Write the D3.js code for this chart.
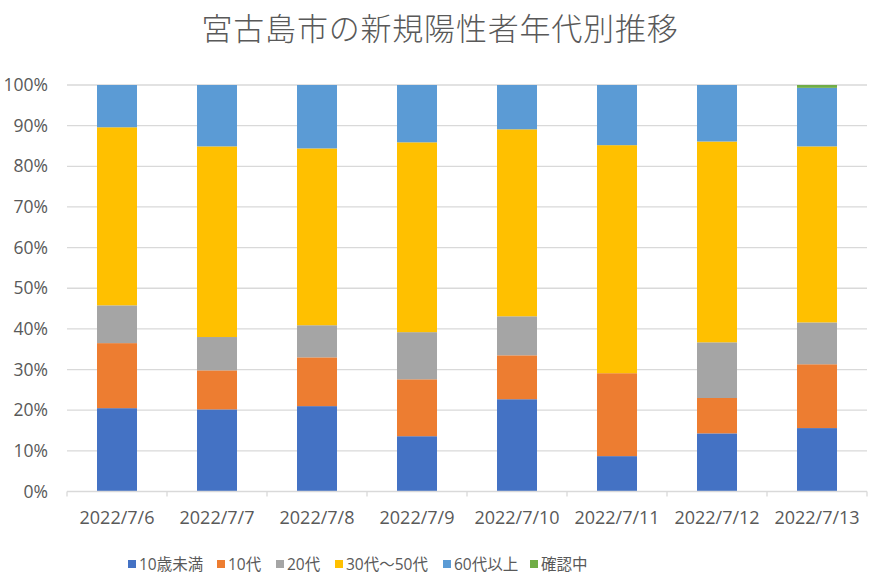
<!DOCTYPE html>
<html lang="ja">
<head>
    <meta charset="UTF-8">
    <title>宮古島市の新規陽性者年代別推移</title>
    <script src="https://d3js.org/d3.v7.min.js"></script>
    <style>
        body {background:#fff; margin:0}
        svg text {font-family:"Open Sans", "Noto Sans CJK JP", sans-serif; fill:#595959}
    </style>
</head>
<body>
<svg id="chart" width="875" height="583"></svg>
<script>
// dates on the x axis
var dates = ["2022/7/6", "2022/7/7", "2022/7/8", "2022/7/9", "2022/7/10", "2022/7/11", "2022/7/12", "2022/7/13"];
// age groups (stack order, bottom to top)
var groups = ["10歳未満", "10代", "20代", "30代～50代", "60代以上", "確認中"];
// share of each group per day, in %
var under10   = [20.5, 20.2, 21.0, 13.6, 22.7,  8.7, 14.3, 15.6];
var teens     = [16.0,  9.6, 12.0, 14.0, 10.8, 20.4,  8.7, 15.7];
var twenties  = [ 9.3,  8.2,  7.9, 11.6,  9.6,  0.0, 13.7, 10.3];
var age30to50 = [43.8, 46.9, 43.5, 46.7, 46.0, 56.1, 49.4, 43.3];
var over60    = [10.4, 15.1, 15.6, 14.1, 10.9, 14.8, 13.9, 14.4];
var unknown   = [ 0.0,  0.0,  0.0,  0.0,  0.0,  0.0,  0.0,  0.7];
var yTicks = [0, 0.1, 0.2, 0.3, 0.4, 0.5, 0.6, 0.7, 0.8, 0.9, 1];

var colors = ["#4472C4", "#ED7D31", "#A5A5A5", "#FFC000", "#5B9BD5", "#70AD47"];
var series = [under10, teens, twenties, age30to50, over60, unknown];

// build rows for d3.stack, normalised to 100%
var rows = dates.map(function(d, i){
    var row = {date: d}, total = 0;
    series.forEach(function(s){ total += s[i]; });
    groups.forEach(function(g, k){ row[g] = series[k][i] / total; });
    return row;
});

var svg = d3.select("#chart");
var plotLeft = 67, plotRight = 867, plotTop = 85, plotBottom = 491.5;

var x = d3.scaleBand().domain(dates).range([plotLeft, plotRight]).paddingInner(0.6).paddingOuter(0.3);
var y = d3.scaleLinear().domain([0, 1]).range([plotBottom, plotTop]);

// title
svg.append("text")
    .attr("x", 440).attr("y", 40)
    .attr("text-anchor", "middle")
    .attr("font-size", "31px")
    .attr("letter-spacing", "0.8px")
    .style("font-family", "'Noto Sans CJK JP', sans-serif")
    .style("font-weight", 300)
    .text("宮古島市の新規陽性者年代別推移");

// gridlines
svg.append("g").selectAll("line")
    .data(yTicks.slice(1))
    .enter().append("line")
    .attr("x1", plotLeft).attr("x2", plotRight)
    .attr("y1", function(d){ return y(d); })
    .attr("y2", function(d){ return y(d); })
    .attr("stroke", "#d9d9d9").attr("stroke-width", 1.3);

// y axis labels
var yAxis = d3.axisLeft(y).tickValues(yTicks).tickFormat(d3.format(".0%")).tickSize(0).tickPadding(19);
svg.append("g")
    .attr("transform", "translate(" + plotLeft + ",0)")
    .call(yAxis)
    .call(function(g){ g.select(".domain").remove(); })
    .selectAll("text")
    .attr("font-size", "17.5px")
    .style("font-family", "'Open Sans', sans-serif")
    .style("fill", "#595959");

// stacked bars
var stack = d3.stack().keys(groups);
var layers = stack(rows);
svg.append("g").selectAll("g")
    .data(layers)
    .enter().append("g")
    .attr("fill", function(d, i){ return colors[i]; })
    .selectAll("rect")
    .data(function(d){ return d; })
    .enter().append("rect")
    .attr("x", function(d){ return x(d.data.date); })
    .attr("y", function(d){ return y(d[1]); })
    .attr("width", x.bandwidth())
    .attr("height", function(d){ return y(d[0]) - y(d[1]); });

// x axis: line, ticks between categories, labels
svg.append("line")
    .attr("x1", plotLeft).attr("x2", plotRight)
    .attr("y1", plotBottom).attr("y2", plotBottom)
    .attr("stroke", "#d9d9d9").attr("stroke-width", 1.3);
svg.append("g").selectAll("line")
    .data(d3.range(dates.length + 1))
    .enter().append("line")
    .attr("x1", function(d){ return plotLeft + d * (plotRight - plotLeft) / dates.length; })
    .attr("x2", function(d){ return plotLeft + d * (plotRight - plotLeft) / dates.length; })
    .attr("y1", plotBottom).attr("y2", plotBottom + 5)
    .attr("stroke", "#d9d9d9").attr("stroke-width", 1.3);
svg.append("g").selectAll("text")
    .data(dates)
    .enter().append("text")
    .attr("x", function(d){ return x(d) + x.bandwidth() / 2; })
    .attr("y", 524)
    .attr("text-anchor", "middle")
    .attr("font-size", "18px")
    .text(function(d){ return d; });

// legend
var legendX = [128, 217, 276, 335, 443, 530];
var legend = svg.append("g").selectAll("g")
    .data(groups)
    .enter().append("g")
    .attr("transform", function(d, i){ return "translate(" + legendX[i] + ",564)"; });
legend.append("rect")
    .attr("x", 0).attr("y", -4)
    .attr("width", 8).attr("height", 8)
    .attr("fill", function(d, i){ return colors[i]; });
legend.append("text")
    .attr("x", 11).attr("y", 6)
    .attr("font-size", "15.5px")
    .text(function(d){ return d; });
</script>
</body>
</html>
